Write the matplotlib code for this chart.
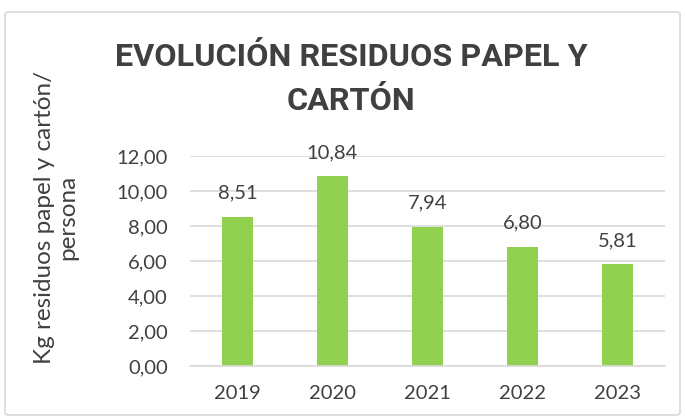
import matplotlib

matplotlib.use("Agg")

import matplotlib.pyplot as plt
from matplotlib.patches import FancyBboxPatch

YEARS = ["2019", "2020", "2021", "2022", "2023"]
KG_PER_PERSON = [8.51, 10.84, 7.94, 6.80, 5.81]
Y_TICKS = [0, 2, 4, 6, 8, 10, 12]

BAR_COLOR = "#92D050"
TEXT_COLOR = "#404040"
GRID_COLOR = "#D9D9D9"

plt.rcParams["font.family"] = ["Lato", "DejaVu Sans"]


def fmt(value: float) -> str:
    return f"{value:.2f}".replace(".", ",")


fig = plt.figure(figsize=(6.85, 4.18), dpi=100)
fig.patches.append(
    FancyBboxPatch(
        (5 / 685, 3 / 418),
        675 / 685,
        403 / 418,
        boxstyle="round,pad=0,rounding_size=0.006",
        transform=fig.transFigure,
        facecolor="white",
        edgecolor=GRID_COLOR,
        linewidth=1.2,
        zorder=-5,
    )
)

ax = fig.add_axes((190 / 685, 1 - 366 / 418, 475 / 685, 210 / 418))
ax.set_facecolor("none")
x = range(len(YEARS))
bars = ax.bar(x, KG_PER_PERSON, width=0.32, color=BAR_COLOR, zorder=2)

for rect, value in zip(bars, KG_PER_PERSON):
    ax.annotate(
        fmt(value),
        (rect.get_x() + rect.get_width() / 2, rect.get_height()),
        xytext=(0, 11),
        textcoords="offset points",
        ha="center",
        va="bottom",
        fontsize=14.5,
        color=TEXT_COLOR,
    )

ax.set_xlim(-0.5, len(YEARS) - 0.5)
ax.set_ylim(0, 12)
ax.set_yticks(Y_TICKS)
ax.set_yticklabels([fmt(v) for v in Y_TICKS])
ax.set_xticks(list(x))
ax.set_xticklabels(YEARS)
ax.tick_params(axis="both", length=0, labelsize=14.5, colors=TEXT_COLOR)
ax.tick_params(axis="y", pad=16)
ax.tick_params(axis="x", pad=14)
ax.grid(axis="y", color=GRID_COLOR, linewidth=1.2, zorder=0)
for name, spine in ax.spines.items():
    if name == "bottom":
        spine.set_color(GRID_COLOR)
        spine.set_linewidth(1.2)
    else:
        spine.set_visible(False)

fig.text(
    351 / 685,
    1 - 79 / 418,
    "EVOLUCIÓN RESIDUOS PAPEL Y\nCARTÓN",
    ha="center",
    va="center",
    fontsize=23.3,
    fontweight="bold",
    family=["Roboto", "DejaVu Sans"],
    color=TEXT_COLOR,
    linespacing=1.55,
)

fig.text(
    56 / 685,
    1 - 217 / 418,
    "Kg residuos papel y cartón/\npersona",
    ha="center",
    va="center",
    rotation=90,
    fontsize=17.5,
    color=TEXT_COLOR,
    multialignment="center",
    linespacing=1.15,
)

fig.savefig("out.png", dpi=100)
